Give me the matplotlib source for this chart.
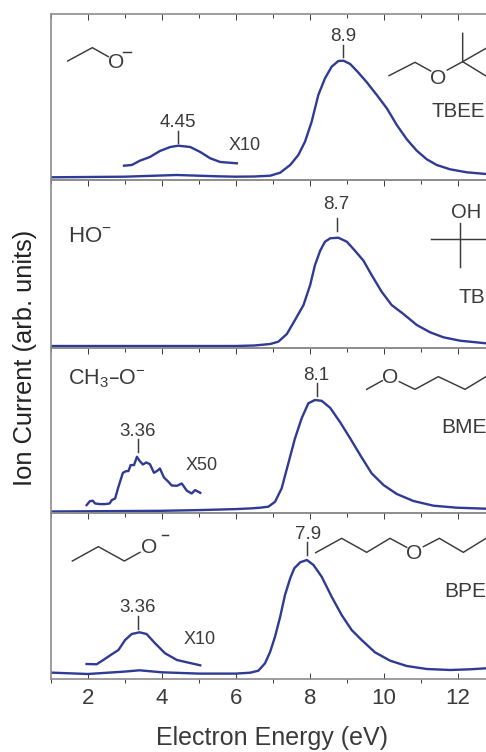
import matplotlib
matplotlib.use('Agg')
import matplotlib.pyplot as plt
from matplotlib.ticker import MultipleLocator

plt.rcParams['font.family'] = ['Liberation Sans', 'DejaVu Sans']
plt.rcParams['mathtext.default'] = 'regular'

#main curves, energy in eV and ion current in arbitrary units
e1 = [1, 3, 4.4, 5.5, 6, 6.5, 6.93, 7.2, 7.47, 7.69, 7.87, 8.05, 8.23, 8.41, 8.59, 8.77, 8.91, 9.09, 9.29, 9.54,
      9.81, 10.08, 10.35, 10.62, 10.89, 11.16, 11.43, 11.79, 12.24, 12.76]
i1 = [2.7, 3.3, 5, 3.7, 3.3, 3.5, 4.3, 7.3, 15, 25, 38.3, 58.3, 85, 101.7, 113.3, 119, 119.3, 116, 108.3, 97.7,
      85, 71.7, 55, 40.7, 29.3, 20.7, 15, 10.7, 7.7, 6]

e2 = [1, 6, 6.5, 6.93, 7.15, 7.38, 7.6, 7.83, 8.01, 8.14, 8.28, 8.41, 8.55, 8.77, 9.0, 9.22, 9.45, 9.67, 9.94,
      10.21, 10.53, 10.89, 11.25, 11.61, 12.06, 12.76]
i2 = [1.7, 1.7, 2.2, 3.7, 6, 13.7, 27.7, 42.7, 62.7, 82.7, 97, 106, 109.4, 110, 106, 97, 87, 72.7, 56,
      42.7, 33.7, 22.7, 15.4, 10.4, 7, 4.4]

e3 = [1, 4, 5, 6, 6.4, 6.66, 6.88, 7.06, 7.24, 7.42, 7.6, 7.78, 7.96, 8.14, 8.32, 8.55, 8.82, 9.09, 9.36, 9.67,
      9.99, 10.35, 10.8, 11.34, 11.97, 12.76]
i3 = [1.3, 2, 2.7, 3.7, 4.4, 5.1, 6.1, 11, 24.5, 49.5, 74.5, 94.5, 109.5, 112.8, 112, 105, 90.5, 74.5, 57.8, 39.5,
      27.8, 18.8, 11.8, 7.1, 5.1, 4.1]

e4 = [1, 2, 3, 3.4, 4, 5, 6.0, 6.39, 6.61, 6.79, 6.93, 7.06, 7.2, 7.33, 7.47, 7.58, 7.74, 7.92, 8.1, 8.32,
      8.59, 8.86, 9.13, 9.4, 9.76, 10.17, 10.62, 11.16, 11.79, 12.33, 12.76]
i4 = [6.7, 5.3, 7.7, 9, 7, 5.7, 5.7, 6.6, 8.6, 16, 27.6, 42.6, 62.6, 84.3, 101, 111, 117, 119.3, 114.3, 102.6,
      82.6, 64.3, 49.3, 39.3, 27, 18.6, 13.3, 10.3, 9.3, 10, 11]

#magnified low energy parts
x10_e1 = [2.98, 3.19, 3.41, 3.68, 3.95, 4.23, 4.45, 4.77, 5.04, 5.31, 5.58, 6.03]
x10_i1 = [14.3, 15, 19.3, 23, 29, 33, 34.3, 33, 28, 21.7, 18, 16.7]

x50_e3 = [1.97, 2.06, 2.14, 2.2, 2.33, 2.47, 2.59, 2.65, 2.74, 2.83, 2.95, 3.04, 3.1, 3.16, 3.25, 3.33,
          3.4, 3.49, 3.58, 3.68, 3.79, 3.88, 3.95, 4.06, 4.18, 4.27, 4.41, 4.54, 4.68, 4.81, 4.9, 5.04]
x50_i3 = [7.7, 11.7, 12, 9.3, 8.7, 8.7, 9.3, 12.7, 14.3, 26, 40, 41.7, 41.7, 47.7, 47.7, 56,
          52, 48.3, 50.3, 48.7, 40, 42, 44.3, 35.3, 31, 27.3, 27, 29.3, 22, 19.3, 22.7, 20]

x10_e4 = [1.97, 2.24, 2.42, 2.65, 2.83, 3.01, 3.19, 3.4, 3.59, 3.82, 4.09, 4.41, 4.68, 5.04]
x10_i4 = [15.3, 15, 19.3, 25, 29.3, 39.3, 45.3, 47, 45.3, 36, 26, 19.3, 17, 14]

curves = [[(e1, i1), (x10_e1, x10_i1)],
          [(e2, i2)],
          [(e3, i3), (x50_e3, x50_i3)],
          [(e4, i4), (x10_e4, x10_i4)]]

W, H = 486, 752
blue = '#2e3a94'
grey = '#8c8c8c'
dark = '#3a3a3a'

fig = plt.figure(figsize=(W / 100, H / 100), dpi=100)

#panel edges in pixels, top and bottom
edges = [(14, 180), (180, 347.7), (347.7, 512.8), (512.8, 679.3)]
left = 50.7

for n, (top, bottom) in enumerate(edges):
    ax = fig.add_axes([left / W, 1 - bottom / H, 1 - left / W, (bottom - top) / H])
    for x, y in curves[n]:
        ax.plot(x, y, color=blue, lw=1.7, solid_joinstyle='round')
    ax.set_xlim(1, 12.76)
    ax.set_ylim(0, bottom - top)
    ax.set_yticks([])
    ax.patch.set_alpha(0)
    ax.xaxis.set_major_locator(MultipleLocator(2))
    ax.xaxis.set_minor_locator(MultipleLocator(1))
    ax.spines['right'].set_visible(False)
    for s in ['left', 'top', 'bottom']:
        ax.spines[s].set_color(grey)
        ax.spines[s].set_linewidth(1.2)
    ax.tick_params(which='both', top=True, bottom=False, direction='in', color=dark,
                   width=0.7, labelbottom=False)
    ax.tick_params(which='major', length=4.5)
    ax.tick_params(which='minor', length=3)
    if n == 3:
        #the bottom panel also has ticks hanging below the axis, with labels
        ax.tick_params(which='both', bottom=True, labelbottom=True)
        for t in ax.xaxis.get_major_ticks():
            t.tick1line.set_marker(3)
            t.tick1line.set_markersize(4)
        for t in ax.xaxis.get_minor_ticks():
            t.tick1line.set_marker(3)
            t.tick1line.set_markersize(3)
        ax.tick_params(axis='x', which='major', labelsize=16, labelcolor=dark, pad=6)

#overlay in pixel coordinates for labels and the drawn molecules
ov = fig.add_axes([0, 0, 1, 1])
ov.set_xlim(0, W)
ov.set_ylim(H, 0)
ov.axis('off')


def bond(pts, y0):
    xs = [40 + p[0] / 3 for p in pts]
    ys = [y0 + p[1] / 3 for p in pts]
    ov.plot(xs, ys, color=dark, lw=1.05, solid_joinstyle='miter', clip_on=True)


def label(x, y, s, y0, size=13.5, ha='center'):
    ov.text(40 + x / 3, y0 + y / 3, s, fontsize=size, color=dark, ha=ha, va='center')


#panel 1
bond([(83, 183), (157, 143), (205, 170)], 0)
label(228, 188, 'O', 0, 15)
bond([(250, 157), (272, 157)], 0)
bond([(1047, 227), (1125, 187), (1172, 213)], 0)
label(1193, 234, 'O', 0, 15)
bond([(1222, 210), (1268, 185), (1338, 145)], 0)
bond([(1268, 100), (1268, 185), (1338, 228)], 0)
label(1175, 334, 'TBEE', 0, 14.8, 'left')
label(910, 110, '8.9', 0)
bond([(908, 135), (908, 172)], 0)
label(413, 368, '4.45', 0)
bond([(414, 392), (414, 430)], 0)
label(565, 437, 'X10', 0, 13, 'left')

#panel 2
label(85, 186, 'HO$^{-}$', 175, 16, 'left')
label(1278, 112, 'OH', 175, 14.5)
bond([(1172, 193), (1338, 193)], 175)
bond([(1260, 143), (1260, 275)], 175)
label(1255, 367, 'TB', 175, 15, 'left')
label(890, 88, '8.7', 175)
bond([(890, 130), (890, 168)], 175)

#panel 3
label(85, 115, 'CH$_3$–O$^{-}$', 340, 15.5, 'left')
bond([(980, 148), (1027, 122)], 340)
label(1050, 112, 'O', 340, 15)
bond([(1078, 125), (1125, 148), (1195, 110), (1275, 148), (1338, 110)], 340)
label(1203, 262, 'BME', 340, 15, 'left')
label(828, 105, '8.1', 340)
bond([(830, 130), (830, 167)], 340)
label(292, 275, '3.36', 340)
bond([(294, 298), (294, 337)], 340)
label(437, 378, 'X50', 340, 13, 'left')

#panel 4
bond([(97, 153), (175, 110), (253, 153), (300, 127)], 510)
label(328, 112, 'O', 510, 15)
bond([(365, 75), (385, 75)], 510)
bond([(827, 128), (905, 85), (980, 127), (1050, 85), (1100, 112)], 510)
label(1123, 131, 'O', 510, 15)
bond([(1150, 110), (1198, 85), (1270, 127), (1338, 85)], 510)
label(1213, 245, 'BPE', 510, 15, 'left')
label(805, 73, '7.9', 510)
bond([(802, 97), (802, 135)], 510)
label(292, 292, '3.36', 510)
bond([(293, 318), (293, 357)], 510)
label(430, 388, 'X10', 510, 13, 'left')

#axis titles
ov.text(272, 738, 'Electron Energy (eV)', fontsize=18, color=dark, ha='center', va='center')
ov.text(25, 358, 'Ion Current (arb. units)', fontsize=18.4, color='#222222', ha='center', va='center',
        rotation=90)

fig.savefig('out.png', dpi=100)
